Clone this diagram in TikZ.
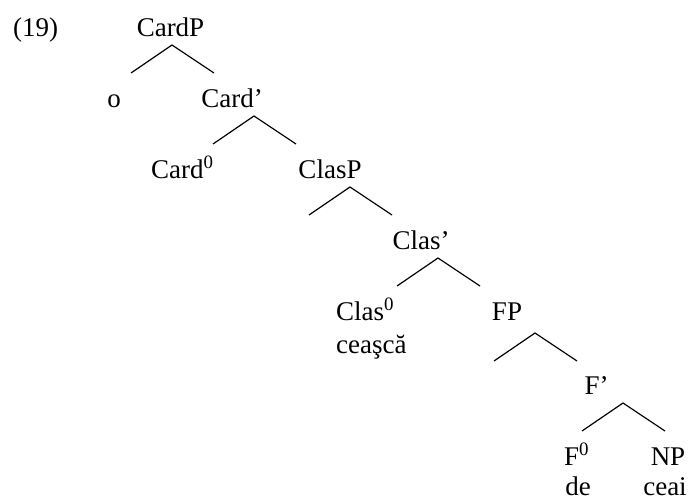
\documentclass[tikz,border=0pt]{standalone}
\usepackage{fontspec}
\setmainfont{Liberation Serif}
\usetikzlibrary{calc}
\begin{document}
\begin{tikzpicture}[x=1pt,y=-1pt,
  lab/.style={inner sep=0pt,anchor=base,font=\fontsize{27}{27}\selectfont},
  labl/.style={lab,anchor=base west},
  branch/.style={line width=1.2pt,line join=miter}]
\useasboundingbox (0,0) rectangle (692,500);
% labels
\node[labl] (ex) at (13,37) {(19)};
\node[lab] (cardp) at (170.5,37) {CardP};
\node[lab] (o) at (114,107) {o};
\node[lab] (cardbar) at (232,107) {Card’};
\node[labl] (card0) at (151,178) {Card\textsuperscript{0}};
\node[lab] (clasp) at (330,178) {ClasP};
\node[lab] (clasbar) at (421,249) {Clas’};
\node[labl] (clas0) at (336,320) {Clas\textsuperscript{0}};
\node[labl] (ceasca) at (336,353) {ceaşcă};
\node[lab] (fp) at (507,320) {FP};
\node[lab] (fbar) at (596.5,394) {F’};
\node[labl] (f0) at (564,465) {F\textsuperscript{0}};
\node[lab] (np) at (668,465) {NP};
\node[lab] (de) at (578,495) {de};
\node[lab] (ceai) at (665,495) {ceai};
% apexes of branches
\coordinate (a1) at (172,45);
\coordinate (a2) at (254,116);
\coordinate (a3) at (350,187);
\coordinate (a4) at (438,258);
\coordinate (a5) at (535,333);
\coordinate (a6) at (623,403);
\foreach \a in {a1,a2,a3,a4,a5,a6}{
  \draw[branch] ($(\a)+(-41,28)$) -- (\a) -- ($(\a)+(42,28)$);
}
\end{tikzpicture}
\end{document}
